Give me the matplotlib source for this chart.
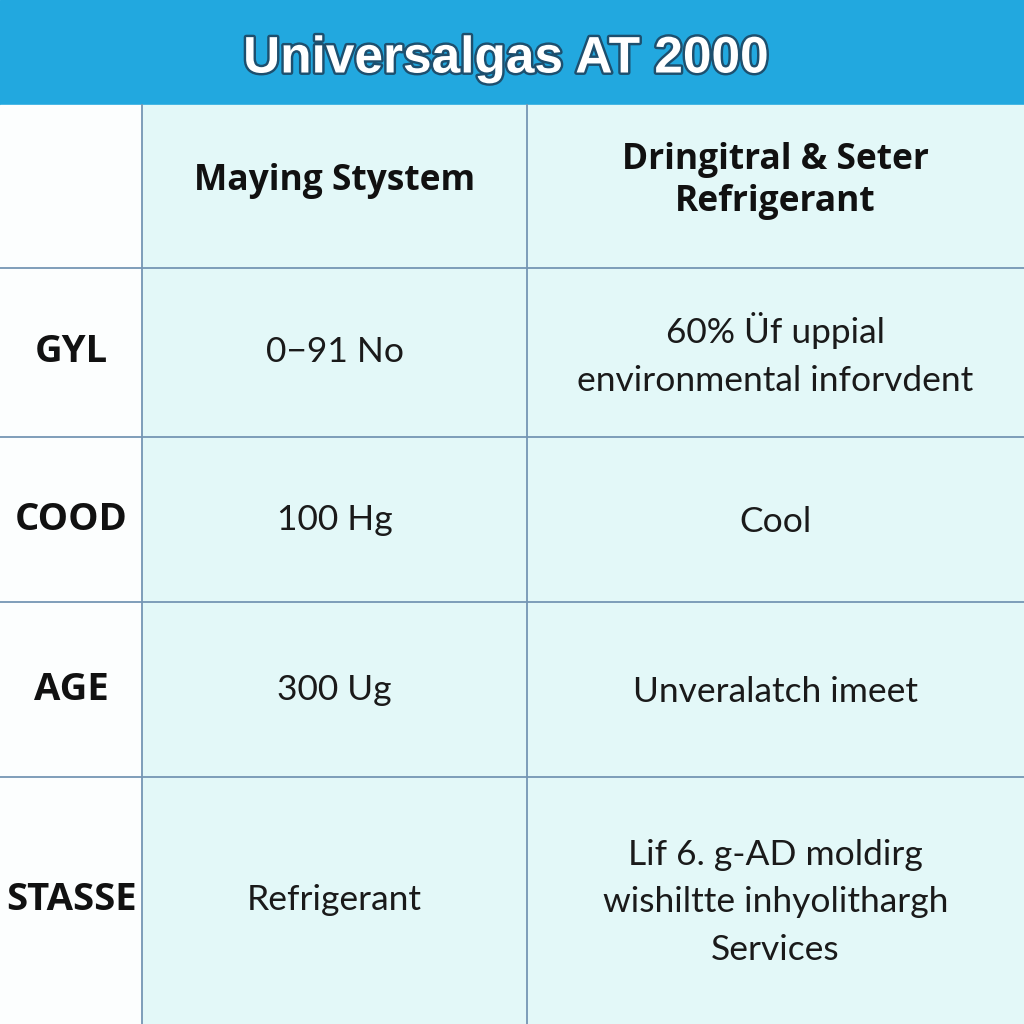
import matplotlib.pyplot as plt
import matplotlib.patheffects as pe
from matplotlib.patches import Rectangle

# Table content
title = 'Universalgas AT 2000'
col_headers = ['', 'Maying Stystem', 'Dringitral & Seter\nRefrigerant']
row_labels = ['GYL', 'COOD', 'AGE', 'STASSE']
col_system = ['0\u221291 No', '100 Hg', '300 Ug', 'Refrigerant']
col_refrig = ['60% \u00dcf uppial\nenvironmental inforvdent',
              'Cool',
              'Unveralatch imeet',
              'Lif 6. g-AD moldirg\nwishiltte inhyolithargh\nServices']

# Layout (pixel coords, y downward)
W, H = 1024, 1024
title_h = 105
col_x = [0, 142, 527, 1024]
row_y = [105, 268, 437, 602, 777, 1024]

fig = plt.figure(figsize=(10.24, 10.24), dpi=100)
ax = fig.add_axes([0, 0, 1, 1])
ax.set_xlim(0, W)
ax.set_ylim(H, 0)
ax.axis('off')

# Backgrounds
ax.add_patch(Rectangle((0, 0), W, title_h, color='#22a8df', zorder=1))
ax.add_patch(Rectangle((0, title_h), col_x[1], H - title_h, color='#fcfefe', zorder=1))
ax.add_patch(Rectangle((col_x[1], title_h), W - col_x[1], H - title_h, color='#e3f8f8', zorder=1))

# Grid lines
line_c = '#7596b4'
for x in col_x[1:3]:
    ax.plot([x, x], [title_h, H], color=line_c, lw=1.3, zorder=2)
for y in row_y[1:5]:
    ax.plot([0, W], [y, y], color=line_c, lw=1.3, zorder=2)

# Title
ax.text(W / 2 - 6, 59, title, ha='center', va='center',
        fontsize=37, fontweight='bold', color='white', family='Liberation Sans',
        path_effects=[pe.withStroke(linewidth=3.5, foreground='#1d4f6e')], zorder=3)

# Header row
hy = 181
for i, h in enumerate(col_headers):
    if not h:
        continue
    cx = (col_x[i] + col_x[i + 1]) / 2
    ax.text(cx, hy, h, ha='center', va='center', fontsize=25.5, fontweight='bold',
            family='Open Sans', color='#111111', linespacing=1.25, zorder=3)

# Body rows
for r in range(len(row_labels)):
    cy = (row_y[r + 1] + row_y[r + 2]) / 2
    ax.text((col_x[0] + col_x[1]) / 2, cy, row_labels[r], ha='center', va='center',
            fontsize=27.5, fontweight='bold', family='Open Sans', color='#111111', zorder=3)
    ax.text((col_x[1] + col_x[2]) / 2, cy, col_system[r], ha='center', va='center',
            fontsize=25.5, family='Lato', color='#1a1a1a', zorder=3)
    ax.text((col_x[2] + col_x[3]) / 2, cy + 2, col_refrig[r], ha='center', va='center',
            fontsize=25.5, family='Lato', color='#1a1a1a', linespacing=1.6, zorder=3)

fig.savefig('out.png', dpi=100)
